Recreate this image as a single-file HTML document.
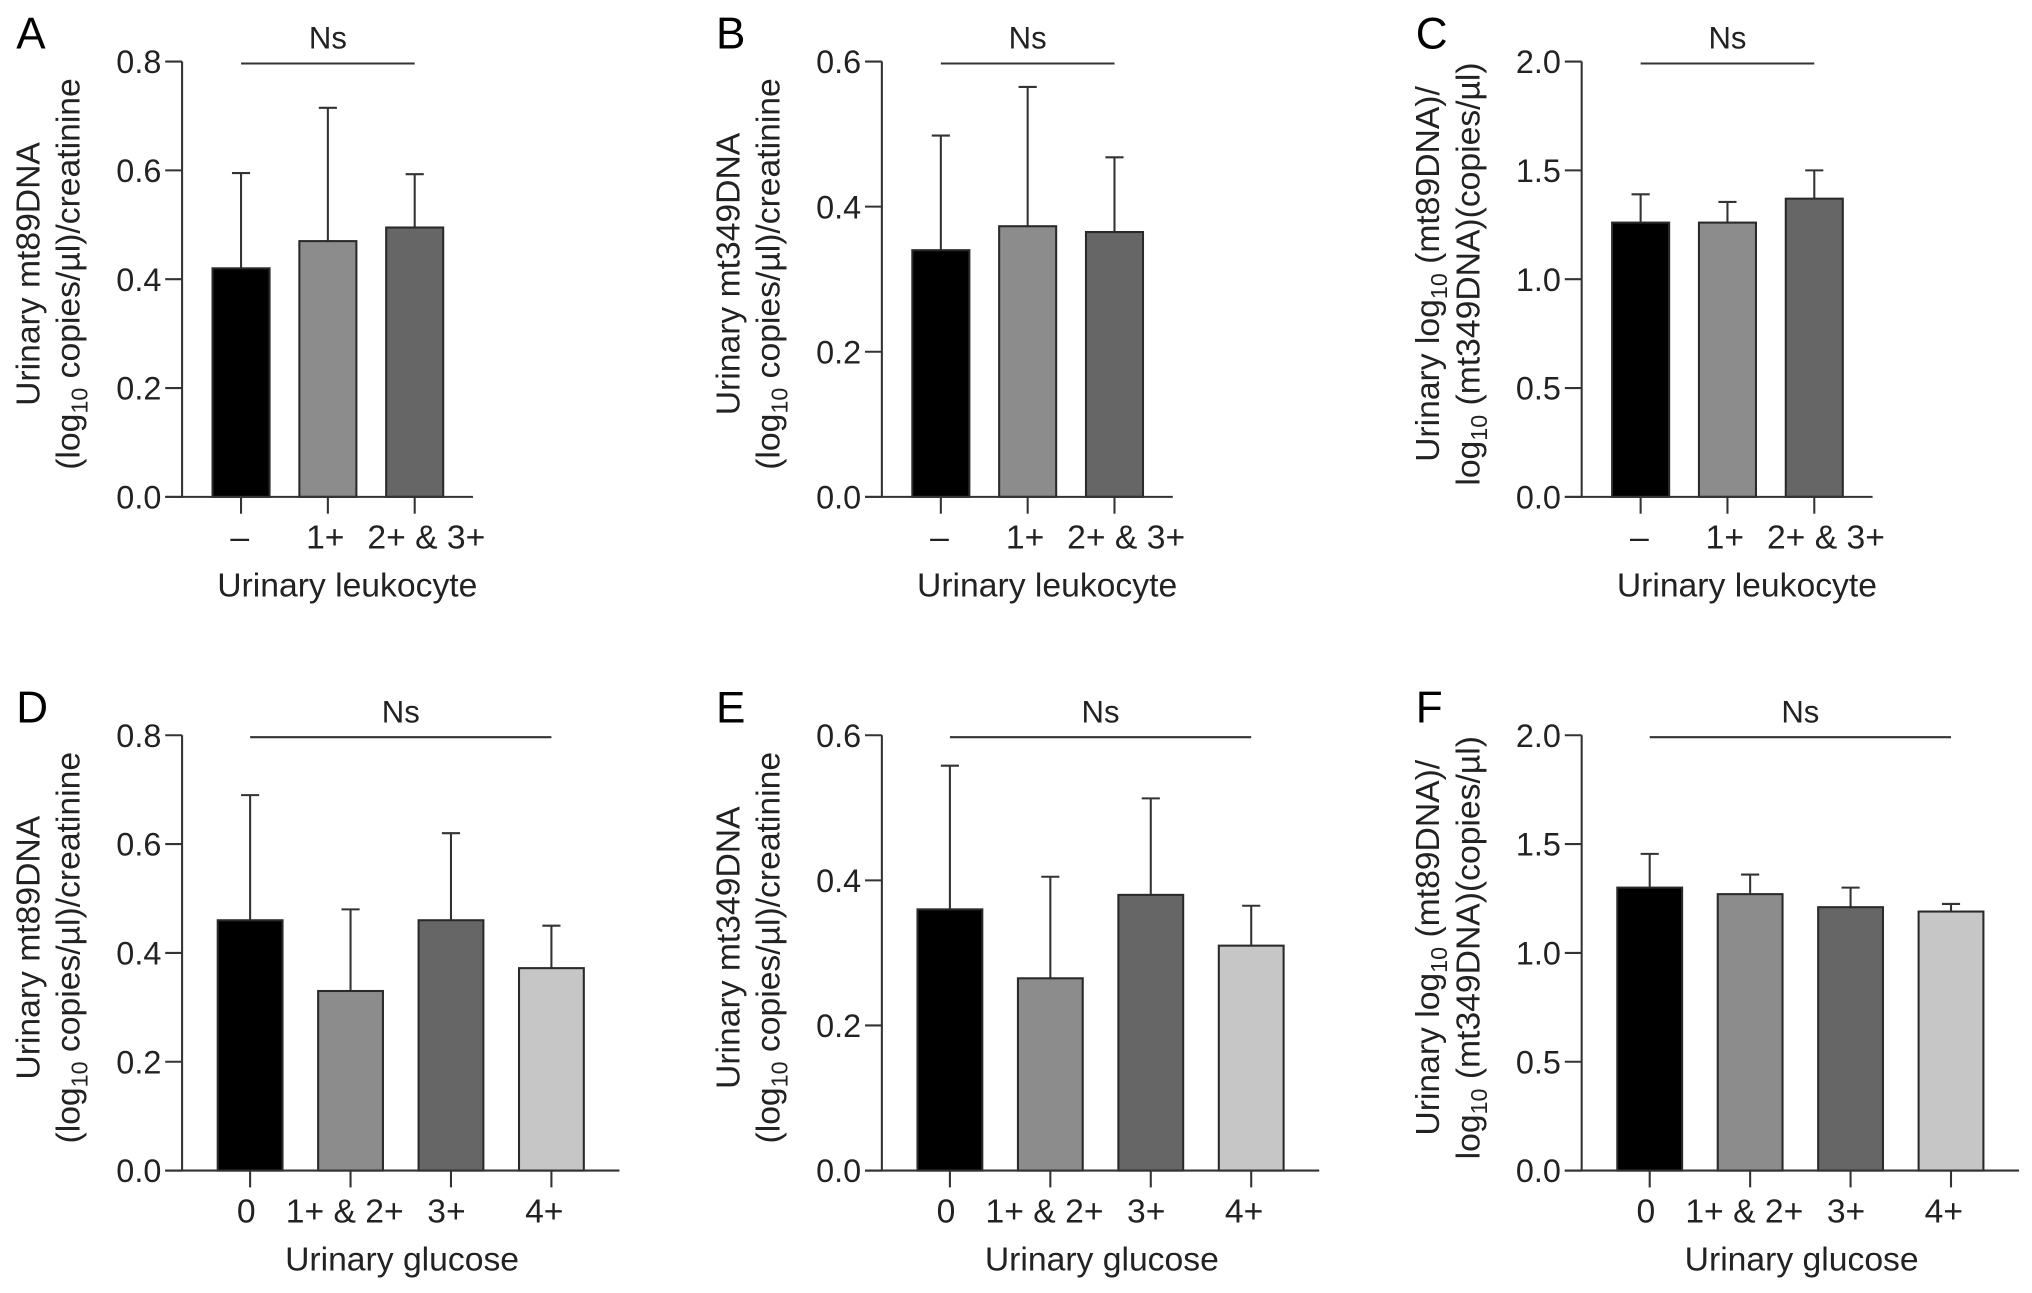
<!DOCTYPE html>
<html><head><meta charset="utf-8"><style>
html,body{margin:0;padding:0;background:#fff;}
svg{display:block;font-family:"Liberation Sans",Arial,sans-serif;}
</style></head><body>
<svg id="fig" width="2032" height="1293" viewBox="0 0 1568 998" preserveAspectRatio="none" xmlns="http://www.w3.org/2000/svg"></svg>
<script>
// ---- data ----
const catsLeuk = ["\u2013", "1+", "2+ & 3+"];
const catsGluc = ["0", "1+ & 2+", "3+", "4+"];
const valsA = [0.42, 0.47, 0.495];
const errA  = [0.595, 0.715, 0.593];
const valsB = [0.34, 0.373, 0.365];
const errB  = [0.498, 0.565, 0.468];
const valsC = [1.26, 1.26, 1.37];
const errC  = [1.39, 1.355, 1.50];
const valsD = [0.46, 0.33, 0.46, 0.372];
const errD  = [0.69, 0.48, 0.62, 0.45];
const valsE = [0.36, 0.265, 0.38, 0.31];
const errE  = [0.558, 0.405, 0.513, 0.365];
const valsF = [1.30, 1.27, 1.21, 1.19];
const errF  = [1.455, 1.36, 1.30, 1.225];
const ticksMt89 = [0, 0.2, 0.4, 0.6, 0.8];
const ticksMt349 = [0, 0.2, 0.4, 0.6];
const ticksRatio = [0, 0.5, 1.0, 1.5, 2.0];

// label placement nudges (styling, not data)
const labelShift3 = [-1, -2, 9];
const labelShift4 = [-3, -4.5, -3.5, -5.5];

const NS = "http://www.w3.org/2000/svg";
const svg = document.getElementById("fig");
const fills = ["#000000", "#8c8c8c", "#666666", "#c6c6c6"];
function el(tag, attrs, parent, text) {
  const e = document.createElementNS(NS, tag);
  for (const k in attrs) e.setAttribute(k, attrs[k]);
  if (text !== undefined) e.textContent = text;
  (parent || svg).appendChild(e);
  return e;
}
function panel(o) {
  const g = el("g", {});
  
  
  const ax = o.ax, y0 = o.y0, yT = o.y0 - 336, max = o.ticks[o.ticks.length - 1];
  const y = v => y0 - v / max * (y0 - yT);
  const n = o.cats.length;
  const bw = n === 3 ? 44 : 50, sp = n === 3 ? 67 : 77.5, c0 = n === 3 ? ax + 45.5 : ax + 52.5;
  const xc = i => c0 + i * sp;
  const shifts = n === 3 ? labelShift3 : labelShift4;
  const axEnd = n === 3 ? ax + 224.5 : ax + 337.5;
  const lt = el("text", {x: ax - 128, y: o.y0 - 346, "font-size": 34}, g, o.letter);
  
  
  o.vals.forEach((v, i) => {
    const e = el("line", {x1: xc(i), x2: xc(i), y1: y(v), y2: y(o.err[i]), stroke: "#333", "stroke-width": 1.6}, g);
    
    
    const cap = el("line", {x1: xc(i) - 7, x2: xc(i) + 7, y1: y(o.err[i]), y2: y(o.err[i]), stroke: "#333", "stroke-width": 1.6}, g);
    
    
    const r = el("rect", {x: xc(i) - bw / 2, y: y(v), width: bw, height: y0 - y(v), fill: fills[i], stroke: "#2a2a2a", "stroke-width": 1.6}, g);
    
    
    const tk = el("line", {x1: xc(i), x2: xc(i), y1: y0, y2: y0 + 13, stroke: "#333", "stroke-width": 1.6}, g);
    
    
    const lb = el("text", {x: xc(i) + shifts[i], y: y0 + 40, "font-size": 26, "text-anchor": "middle", fill: "#222"}, g, o.cats[i]);
    
    
  });
  const ya = el("line", {x1: ax, x2: ax, y1: yT, y2: y0, stroke: "#333", "stroke-width": 1.6}, g);
  
  
  const xa = el("line", {x1: ax - 13, x2: axEnd, y1: y0, y2: y0, stroke: "#333", "stroke-width": 1.6}, g);
  
  
  o.ticks.forEach(t => {
    const tk = el("line", {x1: ax - 13, x2: ax, y1: y(t), y2: y(t), stroke: "#333", "stroke-width": 1.6}, g);
    
    
    const tl = el("text", {x: ax - 16, y: y(t) + 9, "font-size": 25, "text-anchor": "end", fill: "#222"}, g, t.toFixed(1));
    
    
  });
  const nl = el("line", {x1: xc(0), x2: xc(n - 1), y1: yT + 1.5, y2: yT + 1.5, stroke: "#333", "stroke-width": 1.6}, g);
  
  
  const nt = el("text", {x: (xc(0) + xc(n - 1)) / 2, y: yT - 10, "font-size": 24, "text-anchor": "middle", fill: "#222"}, g, "Ns");
  
  
  const xt = el("text", {x: (xc(0) + xc(n - 1)) / 2 + (n === 3 ? 15 : 1), y: y0 + 77, "font-size": 26, "text-anchor": "middle", fill: "#222"}, g, o.xtitle);
  
  
  const cy = (y0 + yT) / 2 - 4;
  const yt = el("text", {transform: "translate(" + (ax - 110) + "," + cy + ") rotate(-90)", "font-size": 26, "text-anchor": "middle", fill: "#222"}, g);
  
  
  o.ytitle.forEach((line, li) => {
    const ts = el("tspan", {x: 0, y: li * 31}, yt);
    line.forEach(seg => {
      if (seg[0] === "sub") el("tspan", {"font-size": 18, dy: 6}, ts, seg[1]);
      else if (seg[0] === "up") el("tspan", {dy: -6}, ts, seg[1]);
      else el("tspan", {}, ts, seg[1]);
    });
  });
}
const tMt89 = [[["t", "Urinary mt89DNA"]], [["t", "(log"], ["sub", "10"], ["up", " copies/\u00b5l)/creatinine"]]];
const tMt349 = [[["t", "Urinary mt349DNA"]], [["t", "(log"], ["sub", "10"], ["up", " copies/\u00b5l)/creatinine"]]];
const tRatio = [[["t", "Urinary log"], ["sub", "10"], ["up", " (mt89DNA)/"]], [["t", "log"], ["sub", "10"], ["up", " (mt349DNA)(copies/\u00b5l)"]]];
panel({letter: "A", ax: 140.5, y0: 383.5, cats: catsLeuk, vals: valsA, err: errA, ticks: ticksMt89, xtitle: "Urinary leukocyte", ytitle: tMt89});
panel({letter: "B", ax: 680.5, y0: 383.5, cats: catsLeuk, vals: valsB, err: errB, ticks: ticksMt349, xtitle: "Urinary leukocyte", ytitle: tMt349});
panel({letter: "C", ax: 1220.5, y0: 383.5, cats: catsLeuk, vals: valsC, err: errC, ticks: ticksRatio, xtitle: "Urinary leukocyte", ytitle: tRatio});
panel({letter: "D", ax: 140.5, y0: 903.5, cats: catsGluc, vals: valsD, err: errD, ticks: ticksMt89, xtitle: "Urinary glucose", ytitle: tMt89});
panel({letter: "E", ax: 680.5, y0: 903.5, cats: catsGluc, vals: valsE, err: errE, ticks: ticksMt349, xtitle: "Urinary glucose", ytitle: tMt349});
panel({letter: "F", ax: 1220.5, y0: 903.5, cats: catsGluc, vals: valsF, err: errF, ticks: ticksRatio, xtitle: "Urinary glucose", ytitle: tRatio});
</script>
</body></html>
